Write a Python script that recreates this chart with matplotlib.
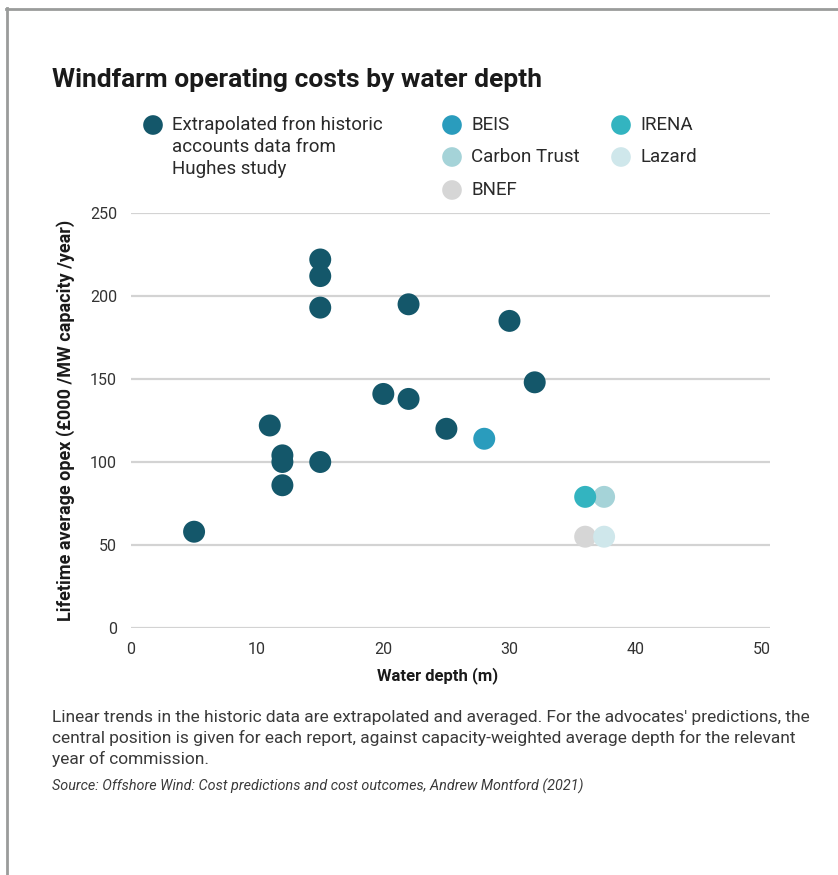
#  windfarm opex vs water depth scatter
import matplotlib.pyplot as plt
from matplotlib.lines import Line2D

plt.rcParams['font.family'] = ['Roboto', 'DejaVu Sans']

# Hughes study points (water depth m, opex £000/MW/year)
hughes_depth = [5, 11, 12, 12, 12, 15, 15, 15, 15, 20, 22, 22, 25, 30, 32]
hughes_opex = [58, 122, 104, 100, 86, 222, 212, 193, 100, 141, 195, 138, 120, 185, 148]

# advocates' central predictions
sources = ['BEIS', 'IRENA', 'Carbon Trust', 'Lazard', 'BNEF']
source_depth = [28, 36, 37.5, 37.5, 36]
source_opex = [114, 79, 79, 55, 55]
source_colors = ['#2a9cbd', '#33b4c0', '#a5d3d8', '#cfe7eb', '#d6d6d6']
hughes_color = '#14576a'

W, H = 838, 875
fig = plt.figure(figsize=(W / 100, H / 100), dpi=100)

# frame lines top and left
fig.add_artist(Line2D([7 / W, 7 / W], [0, 1 - 8 / H], color='#9a9c9b', lw=2))
fig.add_artist(Line2D([6 / W, 1], [1 - 8.5 / H, 1 - 8.5 / H], color='#9a9c9b', lw=2))

fig.text(52 / W, 1 - 80 / H, 'Windfarm operating costs by water depth',
         fontsize=19, fontweight='bold', color='#1a1a1a', va='center')

# main axes
ax = fig.add_axes([131 / W, 1 - 628 / H, (770 - 131) / W, (628 - 213) / H])
for y in [0, 50, 100, 150, 200, 250]:
    ax.axhline(y, color='#d3d3d3', lw=1.6, zorder=0)
ax.scatter(hughes_depth, hughes_opex, s=250, color=hughes_color,
           edgecolors='none', zorder=3, clip_on=False)
# light points first so the stronger colours sit on top
for i in [4, 3, 2, 1, 0]:
    ax.scatter(source_depth[i], source_opex[i], s=250, color=source_colors[i],
               edgecolors='none', zorder=2, clip_on=False)

ax.set_xlim(0, 50.65)
ax.set_ylim(0, 250)
ax.set_xticks([0, 10, 20, 30, 40, 50])
ax.set_yticks([0, 50, 100, 150, 200, 250])
ax.tick_params(length=0, labelsize=11.5, labelcolor='#333333')
ax.tick_params(axis='x', pad=10)
ax.tick_params(axis='y', pad=10)
for s in ax.spines.values():
    s.set_visible(False)
ax.set_xlabel('Water depth (m)', fontsize=12, fontweight='bold', color='#1a1a1a', labelpad=8)
ax.xaxis.set_label_coords((438 - 131) / (770 - 131), -0.095)
ax.set_ylabel('Lifetime average opex (£000 /MW capacity /year)', fontsize=13,
              fontweight='bold', color='#1a1a1a', labelpad=11)

# legend drawn in pixel coordinates
lg = fig.add_axes([0, 0, 1, 1], zorder=-1)
lg.set_xlim(0, W)
lg.set_ylim(H, 0)
lg.axis('off')
legend_items = [('Extrapolated fron historic\naccounts data from\nHughes study', hughes_color, 153, 125),
                ('BEIS', source_colors[0], 452, 125),
                ('Carbon Trust', source_colors[2], 452, 157),
                ('BNEF', source_colors[4], 452, 190),
                ('IRENA', source_colors[1], 621, 125),
                ('Lazard', source_colors[3], 621, 157)]
for label, col, x, y in legend_items:
    lg.scatter(x, y, s=200, color=col, edgecolors='none')
    lg.text(x + 19, y - 9, label, fontsize=13.5, color='#2a2a2a', va='top',
            linespacing=1.3)

# notes below the chart
note = ("Linear trends in the historic data are extrapolated and averaged. For the advocates' predictions, the\n"
        "central position is given for each report, against capacity-weighted average depth for the relevant\n"
        "year of commission.")
fig.text(52 / W, 1 - 710 / H, note, fontsize=12.5, color='#3a3a3a', va='top', linespacing=1.38)
fig.text(52 / W, 1 - 786 / H, 'Source: Offshore Wind: Cost predictions and cost outcomes, Andrew Montford (2021)',
         fontsize=10.4, style='italic', color='#3a3a3a', va='center')

plt.savefig('out.png', dpi=100)
